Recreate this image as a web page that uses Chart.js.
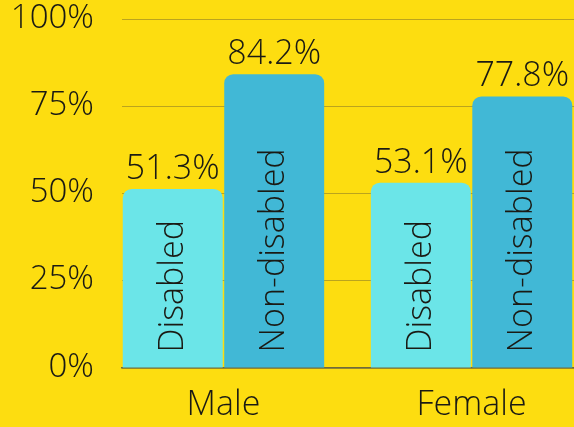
<!DOCTYPE html>
<html>
<head>
<meta charset="utf-8">
<script src="https://cdn.jsdelivr.net/npm/chart.js@4.4.0/dist/chart.umd.min.js"></script>
<style>
  body { margin: 0; background: #fddd10; }
  #wrap { width: 574px; height: 427px; }
</style>
</head>
<body>
<div id="wrap">
  <canvas id="myChart" width="574" height="427"></canvas>
</div>
<script>
const categories = ['Male', 'Female'];
const seriesNames = ['Disabled', 'Non-disabled'];
const disabled = [51.3, 53.1];
const nonDisabled = [84.2, 77.8];
const yTicks = [0, 25, 50, 75, 100];

const FONT = "'Open Sans Light', 'Open Sans', sans-serif";
const INK = '#1a1a14';

// labels above bars and names written inside them
const barText = {
  id: 'barText',
  afterDatasetsDraw(chart) {
    const ctx = chart.ctx;
    ctx.save();
    ctx.fillStyle = INK;
    chart.data.datasets.forEach((ds, di) => {
      const meta = chart.getDatasetMeta(di);
      meta.data.forEach((bar, i) => {
        const v = ds.data[i].y;
        ctx.font = '300 34px ' + FONT;
        ctx.textAlign = 'center';
        ctx.textBaseline = 'alphabetic';
        ctx.fillText(v.toFixed(1) + '%', bar.x, bar.y - 10);

        ctx.save();
        ctx.translate(bar.x, bar.base - 15);
        ctx.rotate(-Math.PI / 2);
        ctx.textAlign = 'left';
        ctx.textBaseline = 'middle';
        ctx.fillText(ds.label, 0, 1);
        ctx.restore();
      });
    });
    ctx.restore();
  }
};

const ctx = document.getElementById('myChart');

new Chart(ctx, {
  type: 'bar',
  data: {
    datasets: [
      {
        label: seriesNames[0],
        data: disabled.map((v, i) => ({ x: i, y: v })),
        backgroundColor: '#6be5e8'
      },
      {
        label: seriesNames[1],
        data: nonDisabled.map((v, i) => ({ x: i, y: v })),
        backgroundColor: '#41b8d6'
      }
    ]
  },
  options: {
    responsive: false,
    animation: false,
    categoryPercentage: 0.818,
    barPercentage: 0.985,
    borderRadius: { topLeft: 9, topRight: 9, bottomLeft: 0, bottomRight: 0 },
    borderSkipped: false,
    layout: { padding: { top: 19, left: 0, right: 0, bottom: 0 } },
    plugins: {
      legend: { display: false },
      tooltip: { enabled: false }
    },
    scales: {
      x: {
        type: 'linear',
        offset: false,
        bounds: 'data',
        min: -0.409,
        max: 1.413,
        grid: { display: false, drawTicks: false },
        border: { display: true, color: '#6f6a3c', width: 1.5 },
        afterBuildTicks: (scale) => {
          scale.ticks = categories.map((c, i) => ({ value: i }));
        },
        afterFit: (scale) => { scale.height = 59; },
        ticks: {
          autoSkip: false,
          maxRotation: 0,
          padding: 18,
          color: INK,
          font: { family: FONT, size: 34, weight: 300 },
          callback: (v) => categories[v]
        }
      },
      y: {
        min: 0,
        max: 100,
        afterBuildTicks: (scale) => {
          scale.ticks = yTicks.map(v => ({ value: v }));
        },
        afterFit: (scale) => {
          scale.width = 122;
          scale.paddingTop = 0;
          scale.paddingBottom = 0;
        },
        grid: { color: '#bba41d', lineWidth: 1, drawTicks: false },
        border: { display: false },
        ticks: {
          padding: 28,
          color: INK,
          font: { family: FONT, size: 33, weight: 300 },
          callback: (v) => v + '%'
        }
      }
    }
  },
  plugins: [barText]
});
</script>
</body>
</html>
